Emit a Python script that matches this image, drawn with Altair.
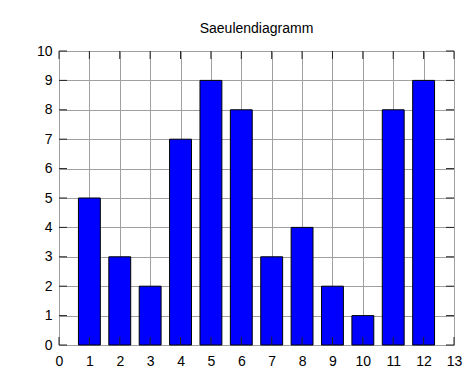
import altair as alt
import pandas as pd

categories = [1, 2, 3, 4, 5, 6, 7, 8, 9, 10, 11, 12]
values = [5, 3, 2, 7, 9, 8, 3, 4, 2, 1, 8, 9]
x_ticks = list(range(0, 14))
y_ticks = list(range(0, 11))

W, H = 395, 294
FONT = "Liberation Sans"

bars_df = pd.DataFrame({"x": categories, "v": values})
xt_df = pd.DataFrame({"t": x_ticks})
yt_df = pd.DataFrame({"t": y_ticks})

xscale = alt.Scale(domain=[0, 13], nice=False, zero=False)
yscale = alt.Scale(domain=[0, 10], nice=False)

xaxis = alt.Axis(values=x_ticks, title=None, grid=True, gridColor="#a0a0a0", gridWidth=1,
                 ticks=False, domain=False, labelFont=FONT, labelFontSize=14,
                 labelColor="#000", labelPadding=9, labelFlush=False, labelOverlap=False)
yaxis = alt.Axis(values=y_ticks, title=None, grid=True, gridColor="#a0a0a0", gridWidth=1,
                 ticks=False, domain=False, labelFont=FONT, labelFontSize=14,
                 labelColor="#000", labelPadding=7, labelFlush=False, labelOverlap=False)

bars = alt.Chart(bars_df).transform_calculate(
    x0="datum.x - 0.36", x1="datum.x + 0.36", y0="0"
).mark_rect(fill="#0000ff", stroke="#000", strokeWidth=1).encode(
    x=alt.X("x0:Q", scale=xscale, axis=xaxis, title=None),
    x2="x1:Q",
    y=alt.Y("y0:Q", scale=yscale, axis=yaxis, title=None),
    y2="v:Q",
)

tick_color = "#222"
bottom_ticks = alt.Chart(xt_df).mark_rule(color=tick_color, strokeWidth=1).encode(
    x=alt.X("t:Q", scale=xscale, axis=xaxis, title=None), y=alt.value(H), y2=alt.value(H - 8))
top_ticks = alt.Chart(xt_df).mark_rule(color=tick_color, strokeWidth=1).encode(
    x=alt.X("t:Q", scale=xscale, axis=xaxis, title=None), y=alt.value(0), y2=alt.value(8))
left_ticks = alt.Chart(yt_df).mark_rule(color=tick_color, strokeWidth=1).encode(
    y=alt.Y("t:Q", scale=yscale, axis=yaxis, title=None), x=alt.value(0), x2=alt.value(8))
right_ticks = alt.Chart(yt_df).mark_rule(color=tick_color, strokeWidth=1).encode(
    y=alt.Y("t:Q", scale=yscale, axis=yaxis, title=None), x=alt.value(W), x2=alt.value(W - 8))

chart = alt.layer(bars, bottom_ticks, top_ticks, left_ticks, right_ticks).properties(
    width=W, height=H,
    title=alt.TitleParams("Saeulendiagramm", font=FONT, fontSize=14, fontWeight="normal",
                          color="#000", anchor="middle", offset=8),
    autosize=alt.AutoSizeParams(type="none"),
    padding={"left": 51, "top": 43, "right": 12, "bottom": 34},
).configure_view(stroke="#222", strokeWidth=1.5).configure(background="white")

chart.save("out.html", embed_options={"renderer": "svg", "actions": False})
